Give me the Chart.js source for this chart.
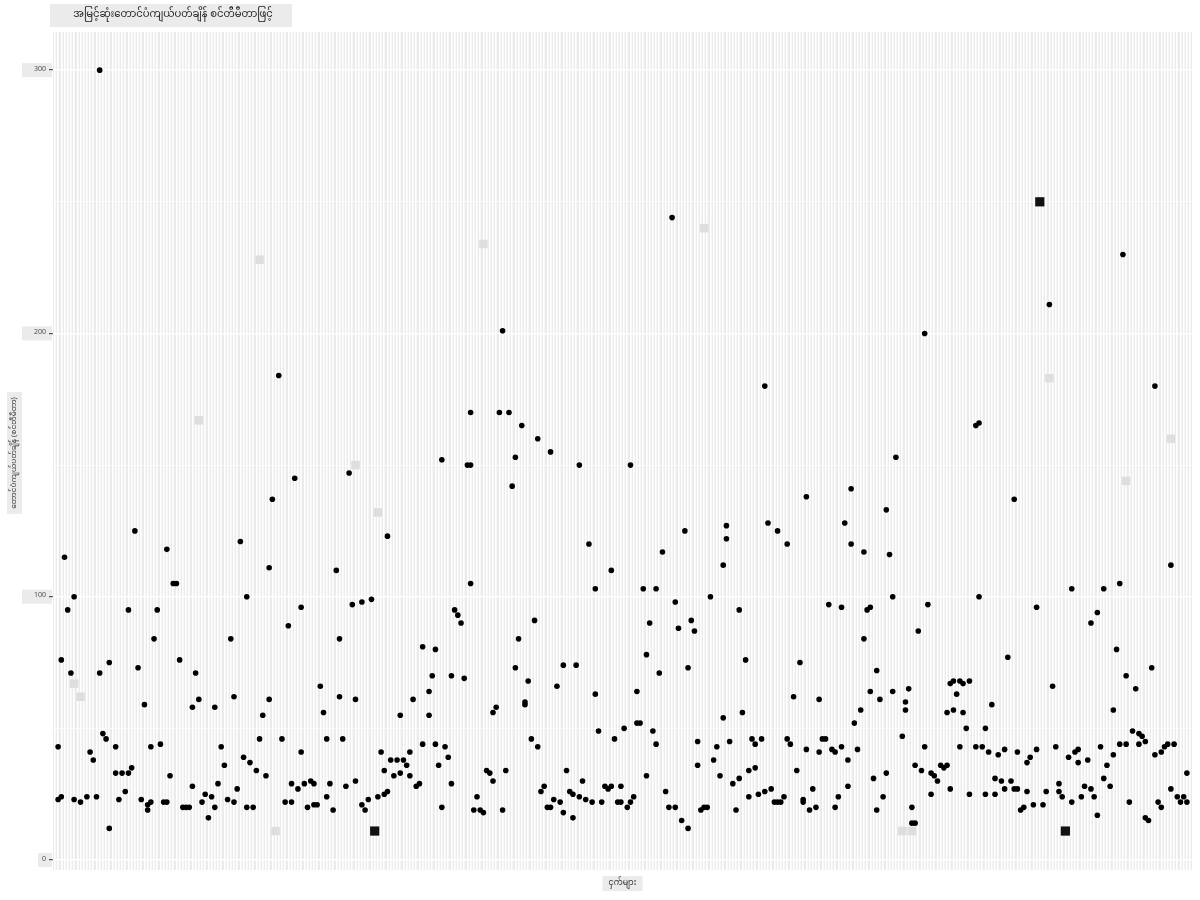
<!DOCTYPE html>
<html>
<head>
<meta charset="utf-8">
<script src="https://cdn.jsdelivr.net/npm/chart.js@4.4.0/dist/chart.umd.min.js"></script>
<style>
    body { margin: 0; background: #fff; }
    #contenedor { width: 1200px; height: 900px; }
</style>
</head>
<body>
<div id="contenedor"><canvas id="chart"></canvas></div>
<script>
const titulo = "အမြင့်ဆုံးတောင်ပံကျယ်ပတ်ချိန် စင်တီမီတာဖြင့်"
const tituloX = "ငှက်များ"
const tituloY = "တောင်ပံကျယ်ပတ်ချိန် (စင်တီမီတာ)"

// una categoria por ave, sin nombres visibles en el eje
const numeroAves = 356
const marcasY = [0, 50, 100, 150, 200, 250, 300]

// posicion de cada ave (indice de categoria) y su envergadura maxima
const posiciones = [
    2, 3, 2, 3, 4, 5, 6, 7, 7, 9, 11, 12, 13, 14, 15, 15, 16, 17, 18, 18,
    20, 20, 21, 22, 23, 24, 24, 25, 26, 27, 28, 29, 30, 30, 31, 31, 32, 33, 34, 35,
    36, 36, 37, 38, 39, 40, 41, 42, 43, 44, 44, 45, 46, 47, 48, 49, 50, 51, 51, 52,
    53, 54, 55, 56, 57, 57, 58, 59, 60, 61, 61, 62, 63, 64, 65, 66, 67, 68, 68, 69,
    71, 72, 73, 74, 75, 75, 76, 77, 78, 78, 79, 80, 81, 82, 82, 83, 84, 85, 86, 86,
    87, 88, 89, 90, 90, 91, 92, 93, 94, 95, 95, 97, 97, 98, 99, 100, 102, 103, 104, 104,
    105, 105, 106, 107, 108, 109, 109, 110, 111, 112, 112, 113, 114, 115, 116, 116, 118, 118, 119, 120,
    120, 121, 122, 122, 123, 124, 125, 125, 126, 127, 128, 129, 130, 131, 131, 131, 132, 133, 134, 135,
    136, 137, 138, 138, 139, 140, 141, 141, 142, 143, 144, 145, 145, 146, 147, 148, 148, 149, 150, 151,
    152, 152, 153, 154, 155, 156, 156, 157, 158, 159, 160, 160, 161, 162, 163, 163, 164, 165, 165, 166,
    167, 168, 169, 170, 170, 171, 172, 173, 174, 175, 175, 176, 177, 178, 178, 179, 180, 181, 181, 182,
    183, 183, 184, 185, 186, 186, 187, 188, 189, 189, 190, 191, 192, 193, 194, 195, 195, 196, 197, 198,
    199, 199, 200, 201, 202, 202, 203, 204, 205, 206, 207, 208, 209, 210, 210, 211, 211, 212, 213, 214,
    215, 215, 216, 217, 218, 218, 219, 220, 220, 221, 222, 223, 223, 224, 225, 226, 227, 227, 228, 229,
    230, 230, 231, 232, 233, 234, 235, 235, 236, 236, 237, 238, 239, 240, 240, 241, 242, 243, 244, 245,
    245, 246, 247, 247, 248, 249, 249, 250, 250, 251, 252, 253, 254, 254, 255, 256, 256, 257, 258, 258,
    259, 260, 261, 261, 262, 263, 263, 264, 266, 267, 267, 268, 269, 269, 270, 270, 271, 272, 273, 273,
    274, 275, 275, 276, 277, 278, 279, 280, 280, 281, 281, 282, 282, 283, 284, 284, 285, 285, 286, 287,
    287, 289, 289, 290, 290, 291, 292, 292, 293, 294, 295, 295, 296, 297, 298, 298, 299, 300, 301, 301,
    302, 302, 303, 304, 305, 305, 306, 307, 308, 308, 310, 311, 312, 313, 314, 315, 315, 316, 318, 319,
    319, 320, 321, 321, 322, 323, 324, 325, 325, 326, 327, 327, 328, 329, 329, 330, 331, 332, 332, 333,
    334, 334, 335, 336, 336, 337, 338, 339, 340, 340, 341, 342, 342, 343, 344, 345, 345, 346, 347, 347,
    348, 349, 350, 350, 351, 352, 353, 354, 355, 355
]
const envergaduras = [
    23, 24, 43, 76, 115, 95, 71, 100, 23, 22, 24, 41, 38, 24, 300, 71, 48, 46, 75, 12,
    33, 43, 23, 33, 26, 33, 95, 35, 125, 73, 23, 59, 19, 21, 22, 43, 84, 95, 44, 22,
    22, 118, 32, 105, 105, 76, 20, 20, 20, 58, 28, 71, 61, 22, 25, 16, 24, 58, 20, 29,
    43, 36, 23, 84, 22, 62, 27, 121, 39, 20, 100, 37, 20, 34, 46, 55, 32, 61, 111, 137,
    184, 46, 22, 89, 22, 29, 145, 27, 41, 96, 29, 20, 30, 21, 29, 21, 66, 56, 24, 46,
    29, 19, 110, 62, 84, 46, 28, 147, 97, 61, 30, 98, 21, 19, 23, 99, 24, 41, 34, 25,
    26, 123, 38, 32, 38, 33, 55, 38, 36, 41, 32, 61, 28, 29, 44, 81, 55, 64, 70, 80,
    44, 36, 152, 20, 43, 39, 70, 29, 95, 93, 90, 69, 150, 150, 170, 105, 19, 24, 19, 18,
    34, 33, 30, 56, 58, 170, 19, 201, 34, 170, 142, 153, 73, 84, 165, 60, 59, 68, 46, 91,
    160, 43, 26, 28, 20, 20, 155, 23, 66, 22, 18, 74, 34, 26, 16, 25, 74, 24, 150, 30,
    23, 120, 22, 63, 103, 49, 22, 28, 27, 28, 110, 46, 22, 28, 22, 50, 20, 150, 22, 24,
    64, 52, 52, 103, 32, 78, 90, 49, 44, 103, 71, 117, 26, 20, 244, 20, 98, 88, 15, 125,
    73, 12, 91, 87, 36, 45, 19, 20, 20, 100, 38, 43, 32, 54, 112, 127, 122, 45, 29, 19,
    95, 31, 56, 76, 34, 24, 46, 35, 44, 25, 46, 180, 26, 128, 27, 22, 22, 125, 22, 24,
    46, 120, 44, 62, 34, 75, 22, 23, 42, 138, 19, 27, 20, 61, 41, 46, 46, 97, 42, 20,
    41, 24, 96, 43, 128, 28, 38, 141, 120, 52, 42, 57, 84, 117, 95, 64, 96, 31, 72, 19,
    61, 24, 33, 133, 116, 64, 100, 153, 47, 60, 57, 65, 20, 14, 36, 14, 87, 34, 43, 200,
    97, 25, 33, 32, 30, 36, 35, 36, 56, 67, 27, 68, 57, 63, 43, 68, 56, 67, 50, 25,
    68, 165, 43, 100, 166, 43, 50, 25, 41, 59, 31, 25, 40, 30, 27, 42, 77, 30, 137, 27,
    27, 41, 19, 20, 37, 26, 39, 21, 96, 42, 21, 26, 211, 66, 43, 29, 26, 24, 39, 22,
    103, 41, 37, 42, 24, 28, 38, 90, 27, 24, 17, 94, 43, 31, 103, 36, 28, 40, 57, 80,
    44, 105, 230, 44, 70, 22, 49, 65, 44, 48, 47, 45, 16, 15, 73, 180, 40, 22, 20, 41,
    43, 44, 112, 27, 44, 24, 22, 24, 33, 22
]

// etiquetas de texto que quedaron como cajas oscuras
const cajasOscurasX = [101, 309, 317]
const cajasOscurasY = [11, 250, 11]

// etiquetas de texto que quedaron como cajas claras
const cajasClarasX = [7, 9, 46, 65, 70, 95, 102, 135, 204, 266, 269, 312, 336, 350]
const cajasClarasY = [67, 62, 167, 228, 11, 150, 132, 234, 240, 11, 11, 183, 144, 160]

const aPuntos = (xs, ys) => xs.map((x, i) => ({ x, y: ys[i] }))

const fuente = "'Noto Sans Myanmar', 'Padauk', 'Myanmar Text', 'Noto Sans', 'DejaVu Sans', sans-serif"

// fondos grises estilo ggplot y textos con caja
const fondos = {
    id: 'fondos',
    beforeDraw(chart) {
        const { ctx, chartArea: a, scales } = chart
        ctx.save()
        ctx.fillStyle = '#ebebeb'
        ctx.fillRect(a.left, a.top, a.right - a.left, a.bottom - a.top)

        // cajas detras de las etiquetas del eje y
        ctx.font = '7px ' + fuente
        marcasY.filter(v => v % 100 === 0).forEach(v => {
            const y = scales.y.getPixelForValue(v)
            const w = ctx.measureText(String(v)).width * 2 + 6
            ctx.fillRect(a.left - 1 - w, y - 7, w, 14)
        })

        // titulo
        ctx.fillRect(50, 4, 242, 23)
        ctx.fillStyle = '#1a1a1a'
        ctx.font = '10px ' + fuente
        ctx.textAlign = 'center'
        ctx.textBaseline = 'middle'
        ctx.fillText(titulo, 173, 16)

        // titulo eje x
        ctx.font = '8px ' + fuente
        const anchoX = ctx.measureText(tituloX).width + 12
        const cx = (a.left + a.right) / 2
        ctx.fillStyle = '#ebebeb'
        ctx.fillRect(cx - anchoX / 2, 876, anchoX, 15)
        ctx.fillStyle = '#333'
        ctx.fillText(tituloX, cx, 884)

        // titulo eje y
        ctx.font = '7.5px ' + fuente
        const anchoY = ctx.measureText(tituloY).width + 10
        const cy = 453
        ctx.translate(14, cy)
        ctx.rotate(-Math.PI / 2)
        ctx.fillStyle = '#ebebeb'
        ctx.fillRect(-anchoY / 2, -7, anchoY, 15)
        ctx.fillStyle = '#333'
        ctx.fillText(tituloY, 0, 1)
        ctx.restore()
    }
}

const grafico = document.getElementById('chart').getContext('2d')
new Chart(grafico, {
    type: 'scatter',
    data: {
        datasets: [{
            label: 'envergadura',
            data: aPuntos(posiciones, envergaduras),
            backgroundColor: '#000',
            borderColor: '#000',
            pointRadius: 2.8,
            borderWidth: 0,
            order: 1,
        }, {
            label: 'cajas oscuras',
            data: aPuntos(cajasOscurasX, cajasOscurasY),
            pointStyle: 'rect',
            backgroundColor: '#111',
            borderWidth: 0,
            pointRadius: 6.5,
            order: 2,
        }, {
            label: 'cajas claras',
            data: aPuntos(cajasClarasX, cajasClarasY),
            pointStyle: 'rect',
            backgroundColor: '#dedede',
            borderWidth: 0,
            pointRadius: 6,
            order: 3,
        }],
    },
    options: {
        responsive: true,
        maintainAspectRatio: false,
        animation: false,
        layout: { padding: { top: 32, right: 8, left: 0, bottom: 0 } },
        plugins: {
            legend: { display: false },
            tooltip: { enabled: false },
        },
        scales: {
            x: {
                type: 'linear',
                min: 0.4,
                max: numeroAves + 0.6,
                afterBuildTicks: (escala) => {
                    escala.ticks = Array.from({ length: numeroAves }, (_, i) => ({ value: i + 1 }))
                },
                afterFit: (escala) => { escala.height = 30 },
                ticks: { display: false },
                grid: { color: '#ffffff', lineWidth: 1.6, drawTicks: false },
                border: { display: false },
            },
            y: {
                min: -3.8,
                max: 314.5,
                afterBuildTicks: (escala) => {
                    escala.ticks = marcasY.map(v => ({ value: v }))
                },
                afterFit: (escala) => { escala.width = 53 },
                ticks: {
                    font: { size: 7, family: fuente },
                    color: '#4d4d4d',
                    padding: 3,
                    callback: (v) => v % 100 === 0 ? v : '',
                },
                grid: {
                    color: '#ffffff',
                    lineWidth: (c) => c.tick && c.tick.value % 100 === 0 ? 1.4 : 0.7,
                    tickColor: (c) => c.tick && c.tick.value % 100 === 0 ? '#333333' : 'rgba(0,0,0,0)',
                    tickLength: 4,
                    tickWidth: 1,
                },
                border: { display: false },
            },
        },
    },
    plugins: [fondos],
})
</script>
</body>
</html>
